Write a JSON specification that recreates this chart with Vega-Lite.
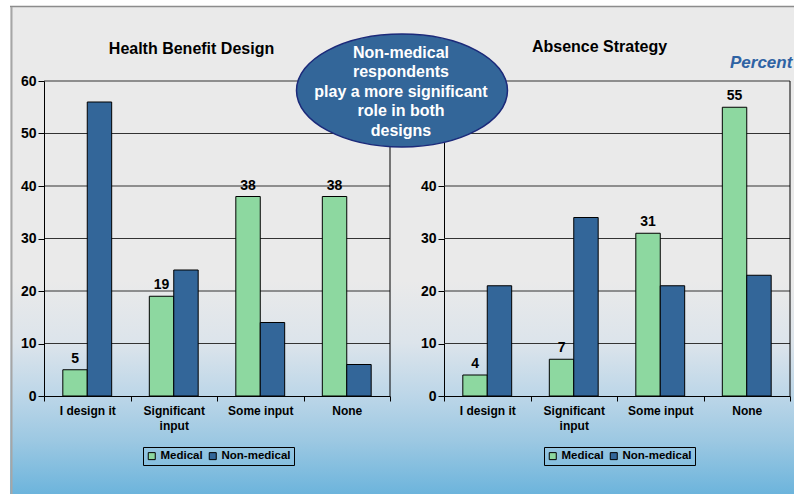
{
  "$schema": "https://vega.github.io/schema/vega-lite/v6.json",
  "background": "white",
  "padding": {"left": 9, "top": 5, "right": 0, "bottom": 0},
  "bounds": "flush",
  "spacing": 54,
  "config": {"view": {"stroke": null}, "font": "Liberation Sans", "axis": {"grid": false}},
  "datasets": {
    "bars": [
      {"panel": "Health Benefit Design", "category": "I design it", "group": "Medical", "value": 5},
      {"panel": "Health Benefit Design", "category": "I design it", "group": "Non-medical", "value": 56},
      {"panel": "Health Benefit Design", "category": "Significant input", "group": "Medical", "value": 19},
      {"panel": "Health Benefit Design", "category": "Significant input", "group": "Non-medical", "value": 24},
      {"panel": "Health Benefit Design", "category": "Some input", "group": "Medical", "value": 38},
      {"panel": "Health Benefit Design", "category": "Some input", "group": "Non-medical", "value": 14},
      {"panel": "Health Benefit Design", "category": "None", "group": "Medical", "value": 38},
      {"panel": "Health Benefit Design", "category": "None", "group": "Non-medical", "value": 6},
      {"panel": "Absence Strategy", "category": "I design it", "group": "Medical", "value": 4},
      {"panel": "Absence Strategy", "category": "I design it", "group": "Non-medical", "value": 21},
      {"panel": "Absence Strategy", "category": "Significant input", "group": "Medical", "value": 7},
      {"panel": "Absence Strategy", "category": "Significant input", "group": "Non-medical", "value": 34},
      {"panel": "Absence Strategy", "category": "Some input", "group": "Medical", "value": 31},
      {"panel": "Absence Strategy", "category": "Some input", "group": "Non-medical", "value": 21},
      {"panel": "Absence Strategy", "category": "None", "group": "Medical", "value": 55},
      {"panel": "Absence Strategy", "category": "None", "group": "Non-medical", "value": 23}
    ],
    "grid": [{"v": 10}, {"v": 20}, {"v": 30}, {"v": 40}, {"v": 50}, {"v": 60}]
  },
  "hconcat": [
    {
      "width": 346,
      "height": 315,
      "layer": [
        {
          "data": {"values": [{}]},
          "mark": {"type": "rect", "stroke": null, "fill": {"gradient": "linear", "x1": 0, "y1": 0, "x2": 0, "y2": 1, "stops": [
            {"offset": 0, "color": "#EAEAEA"},
            {"offset": 0.562, "color": "#EAEAEA"},
            {"offset": 0.689, "color": "#DCE4EB"},
            {"offset": 0.798, "color": "#BCD6E8"},
            {"offset": 0.89, "color": "#9CC8E2"},
            {"offset": 1, "color": "#6CB4DC"}
          ]}},
          "encoding": {
            "x": {"datum": -0.09827, "type": "quantitative", "scale": {"domain": [0, 1]}, "axis": null},
            "x2": {"datum": 2.16908},
            "y": {"datum": 74.095, "type": "quantitative", "scale": {"domain": [0, 60]}},
            "y2": {"datum": -18.762}
          }
        },
        {
          "data": {"values": [{}]},
          "mark": {"type": "rule", "color": "#8c8c8c", "strokeWidth": 1.5},
          "encoding": {
            "x": {"datum": -0.09827, "type": "quantitative", "scale": {"domain": [0, 1]}, "axis": null},
            "x2": {"datum": 2.16908},
            "y": {"datum": 74.19, "type": "quantitative", "scale": {"domain": [0, 60]}}
          }
        },
        {
          "data": {"values": [{}]},
          "mark": {"type": "rule", "color": "#a6a6a6", "strokeWidth": 2},
          "encoding": {
            "x": {"datum": -0.0939, "type": "quantitative", "scale": {"domain": [0, 1]}, "axis": null},
            "y": {"datum": 74.1, "type": "quantitative", "scale": {"domain": [0, 60]}},
            "y2": {"datum": -18.76}
          }
        },
        {
          "data": {"name": "grid"},
          "mark": {"type": "rule", "color": "#333333", "strokeWidth": 1},
          "encoding": {
            "y": {"field": "v", "type": "quantitative", "title": null, "scale": {"domain": [0, 60]}}
          }
        },
        {
          "data": {"values": [{"t": "Health Benefit Design"}]},
          "mark": {"type": "text", "font": "Liberation Sans", "fontWeight": "bold", "fontSize": 16, "color": "#000000", "align": "center", "baseline": "middle"},
          "encoding": {
            "x": {"datum": 0.4263, "type": "quantitative", "scale": {"domain": [0, 1]}, "axis": null},
            "y": {"datum": 66.1, "type": "quantitative", "scale": {"domain": [0, 60]}},
            "text": {"field": "t", "type": "nominal"}
          }
        },
        {
          "data": {"name": "bars"},
          "transform": [{"filter": "datum.panel == 'Health Benefit Design'"}],
          "layer": [
            {
              "mark": {"type": "bar", "stroke": "#000000", "strokeWidth": 1},
              "encoding": {
                "x": {"field": "category", "type": "nominal", "sort": null,
                  "scale": {"domain": ["I design it", "Significant input", "Some input", "None"], "paddingInner": 0, "paddingOuter": 0},
                  "axis": {"title": null, "labelAngle": 0, "tickBand": "extent", "tickSize": 5, "labelPadding": 4,
                    "labelFont": "Liberation Sans", "labelFontWeight": "bold", "labelFontSize": 12, "labelColor": "#000000",
                    "domainColor": "#000000", "tickColor": "#000000", "labelLineHeight": 15,
                    "labelExpr": "datum.label == 'Significant input' ? ['Significant', 'input'] : datum.label", "zindex": 1}},
                "xOffset": {"field": "group", "type": "nominal", "scale": {"domain": ["Medical", "Non-medical"], "paddingInner": 0, "paddingOuter": 0.77}},
                "y": {"field": "value", "type": "quantitative", "scale": {"domain": [0, 60]},
                  "axis": {"title": null, "values": [0, 10, 20, 30, 40, 50, 60], "tickSize": 6, "labelPadding": 2,
                    "labelFont": "Liberation Sans", "labelFontWeight": "bold", "labelFontSize": 14, "labelColor": "#000000",
                    "domainColor": "#000000", "tickColor": "#000000", "grid": false, "zindex": 1}},
                "color": {"field": "group", "type": "nominal",
                  "scale": {"domain": ["Medical", "Non-medical"], "range": ["#8DD8A0", "#336699"]},
                  "legend": {"title": null, "orient": "none", "legendX": 99, "legendY": 366, "direction": "horizontal",
                    "symbolType": "square", "symbolSize": 49, "symbolStrokeColor": "#000000", "symbolStrokeWidth": 1,
                    "labelFont": "Liberation Sans", "labelFontWeight": "bold", "labelFontSize": 11.5, "labelColor": "#000000",
                    "strokeColor": "#000000", "padding": 3, "columnPadding": 4, "labelOffset": 3}}
              }
            },
            {
              "transform": [{"filter": "datum.group == 'Medical'"}],
              "mark": {"type": "text", "font": "Liberation Sans", "fontWeight": "bold", "fontSize": 14, "baseline": "bottom", "dy": -4, "color": "#000000"},
              "encoding": {
                "x": {"field": "category", "type": "nominal", "sort": null, "title": null, "scale": {"domain": ["I design it", "Significant input", "Some input", "None"], "paddingInner": 0, "paddingOuter": 0}},
                "xOffset": {"field": "group", "type": "nominal", "scale": {"domain": ["Medical", "Non-medical"], "paddingInner": 0, "paddingOuter": 0.77}},
                "y": {"field": "value", "type": "quantitative", "title": null, "scale": {"domain": [0, 60]}},
                "text": {"field": "value", "type": "quantitative"}
              }
            }
          ]
        },
        {
          "data": {"values": [{}]},
          "mark": {"type": "rule", "color": "#000000", "strokeWidth": 1},
          "encoding": {
            "x": {"datum": 1, "type": "quantitative", "scale": {"domain": [0, 1]}, "axis": null}
          }
        }
      ],
      "resolve": {"scale": {"x": "independent"}}
    },
    {
      "width": 346,
      "height": 315,
      "layer": [
        {
          "data": {"name": "grid"},
          "mark": {"type": "rule", "color": "#333333", "strokeWidth": 1},
          "encoding": {
            "y": {"field": "v", "type": "quantitative", "title": null, "scale": {"domain": [0, 60]}}
          }
        },
        {
          "data": {"values": [{"t": "Absence Strategy"}]},
          "mark": {"type": "text", "font": "Liberation Sans", "fontWeight": "bold", "fontSize": 16, "color": "#000000", "align": "center", "baseline": "middle"},
          "encoding": {
            "x": {"datum": 0.4494, "type": "quantitative", "scale": {"domain": [0, 1]}, "axis": null},
            "y": {"datum": 66.48, "type": "quantitative", "scale": {"domain": [0, 60]}},
            "text": {"field": "t", "type": "nominal"}
          }
        },
        {
          "data": {"name": "bars"},
          "transform": [{"filter": "datum.panel == 'Absence Strategy'"}],
          "layer": [
            {
              "mark": {"type": "bar", "stroke": "#000000", "strokeWidth": 1},
              "encoding": {
                "x": {"field": "category", "type": "nominal", "sort": null,
                  "scale": {"domain": ["I design it", "Significant input", "Some input", "None"], "paddingInner": 0, "paddingOuter": 0},
                  "axis": {"title": null, "labelAngle": 0, "tickBand": "extent", "tickSize": 5, "labelPadding": 4,
                    "labelFont": "Liberation Sans", "labelFontWeight": "bold", "labelFontSize": 12, "labelColor": "#000000",
                    "domainColor": "#000000", "tickColor": "#000000", "labelLineHeight": 15,
                    "labelExpr": "datum.label == 'Significant input' ? ['Significant', 'input'] : datum.label", "zindex": 1}},
                "xOffset": {"field": "group", "type": "nominal", "scale": {"domain": ["Medical", "Non-medical"], "paddingInner": 0, "paddingOuter": 0.77}},
                "y": {"field": "value", "type": "quantitative", "scale": {"domain": [0, 60]},
                  "axis": {"title": null, "values": [0, 10, 20, 30, 40], "tickSize": 6, "labelPadding": 2,
                    "labelFont": "Liberation Sans", "labelFontWeight": "bold", "labelFontSize": 14, "labelColor": "#000000",
                    "domainColor": "#000000", "tickColor": "#000000", "grid": false, "zindex": 0}},
                "color": {"field": "group", "type": "nominal",
                  "scale": {"domain": ["Medical", "Non-medical"], "range": ["#8DD8A0", "#336699"]},
                  "legend": {"title": null, "orient": "none", "legendX": 100, "legendY": 366, "direction": "horizontal",
                    "symbolType": "square", "symbolSize": 49, "symbolStrokeColor": "#000000", "symbolStrokeWidth": 1,
                    "labelFont": "Liberation Sans", "labelFontWeight": "bold", "labelFontSize": 11.5, "labelColor": "#000000",
                    "strokeColor": "#000000", "padding": 3, "columnPadding": 4, "labelOffset": 3}}
              }
            },
            {
              "transform": [{"filter": "datum.group == 'Medical'"}],
              "mark": {"type": "text", "font": "Liberation Sans", "fontWeight": "bold", "fontSize": 14, "baseline": "bottom", "dy": -4, "color": "#000000"},
              "encoding": {
                "x": {"field": "category", "type": "nominal", "sort": null, "title": null, "scale": {"domain": ["I design it", "Significant input", "Some input", "None"], "paddingInner": 0, "paddingOuter": 0}},
                "xOffset": {"field": "group", "type": "nominal", "scale": {"domain": ["Medical", "Non-medical"], "paddingInner": 0, "paddingOuter": 0.77}},
                "y": {"field": "value", "type": "quantitative", "title": null, "scale": {"domain": [0, 60]}},
                "text": {"field": "value", "type": "quantitative"}
              }
            }
          ]
        },
        {
          "data": {"values": [{}]},
          "mark": {"type": "rule", "color": "#000000", "strokeWidth": 1},
          "encoding": {
            "x": {"datum": 1, "type": "quantitative", "scale": {"domain": [0, 1]}, "axis": null}
          }
        },
        {
          "data": {"values": [{"t": "Percent"}]},
          "mark": {"type": "text", "font": "Liberation Sans", "fontWeight": "bold", "fontStyle": "italic", "fontSize": 17, "color": "#2F63A4", "align": "left", "baseline": "middle"},
          "encoding": {
            "x": {"datum": 0.8266, "type": "quantitative", "scale": {"domain": [0, 1]}, "axis": null},
            "y": {"datum": 63.43, "type": "quantitative", "scale": {"domain": [0, 60]}},
            "text": {"field": "t", "type": "nominal"}
          }
        },
        {
          "data": {"values": [{}]},
          "mark": {"type": "point", "filled": true, "opacity": 1, "fill": "#336699", "stroke": "#1C2A7A", "strokeWidth": 1.5, "size": 44521,
            "shape": "M-1,0A1,0.5355,0,1,1,1,0A1,0.5355,0,1,1,-1,0Z"},
          "encoding": {
            "x": {"datum": -0.1214, "type": "quantitative", "scale": {"domain": [0, 1]}, "axis": null},
            "y": {"datum": 58.19, "type": "quantitative", "scale": {"domain": [0, 60]}}
          }
        },
        {
          "data": {"values": [{"note": "Non-medical\nrespondents\nplay a more significant\nrole in both\ndesigns"}]},
          "mark": {"type": "text", "font": "Liberation Sans", "fontWeight": "bold", "fontSize": 16, "color": "#FFFFFF", "align": "center", "baseline": "middle", "lineBreak": "\n", "lineHeight": 19.5},
          "encoding": {
            "x": {"datum": -0.1243, "type": "quantitative", "scale": {"domain": [0, 1]}, "axis": null},
            "y": {"datum": 65.39, "type": "quantitative", "scale": {"domain": [0, 60]}},
            "text": {"field": "note", "type": "nominal"}
          }
        }
      ],
      "resolve": {"scale": {"x": "independent"}}
    }
  ],
  "resolve": {"scale": {"color": "independent"}, "legend": {"color": "independent"}}
}
